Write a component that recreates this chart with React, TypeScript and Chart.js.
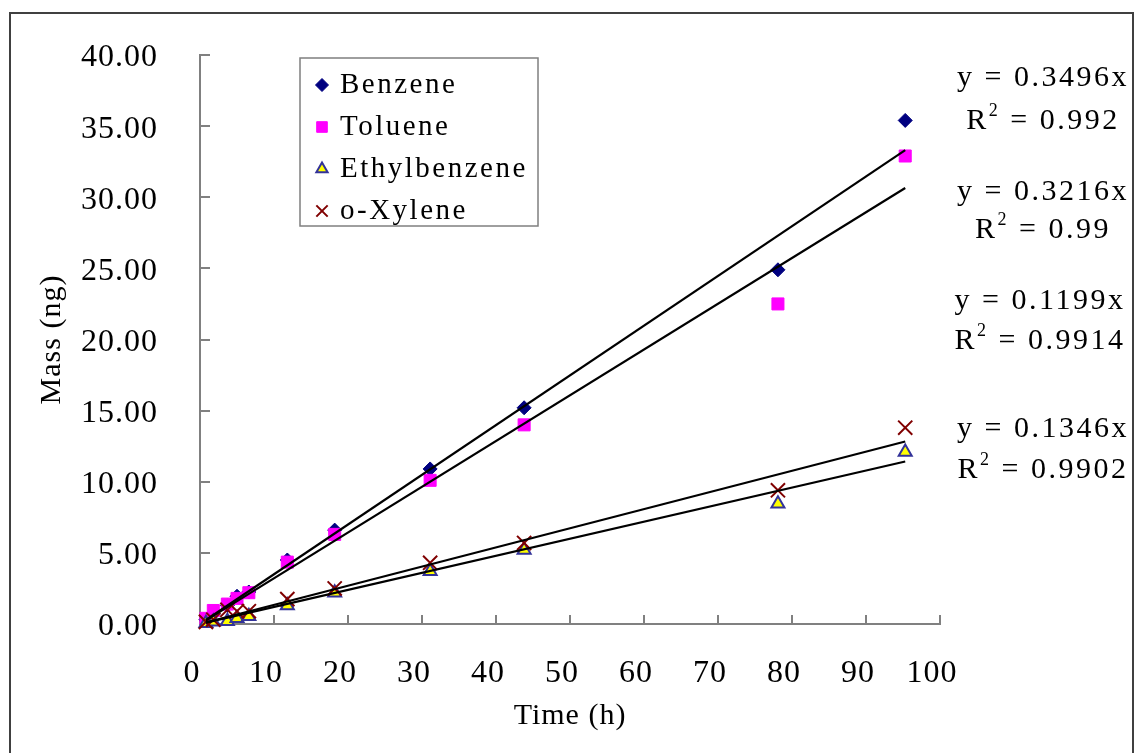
import React, { useEffect, useRef } from 'react';
import { Chart, registerables } from 'chart.js';
import { drawPoint } from 'chart.js/helpers';

Chart.register(...registerables);

// ---- data ----
const timeH = [0.8, 1.8, 3.7, 5.0, 6.6, 11.8, 18.2, 31.1, 43.8, 78.1, 95.3];
const benzene = [0.3, 0.7, 1.3, 1.95, 2.25, 4.5, 6.6, 10.9, 15.2, 24.9, 35.4];
const toluene = [0.4, 0.95, 1.4, 1.8, 2.2, 4.35, 6.3, 10.1, 14.0, 22.5, 32.9];
const ethylbenzene = [0.05, 0.15, 0.2, 0.4, 0.55, 1.3, 2.2, 3.7, 5.2, 8.45, 12.1];
const oXylene = [0.15, 0.3, 1.0, 0.9, 0.9, 1.75, 2.5, 4.3, 5.7, 9.4, 13.8];

const seriesNames = ['Benzene', 'Toluene', 'Ethylbenzene', 'o-Xylene'];
const slopes = [0.3496, 0.3216, 0.1199, 0.1346];
const slopeLabels = ['0.3496', '0.3216', '0.1199', '0.1346'];
const rSquaredLabels = ['0.992', '0.99', '0.9914', '0.9902'];

const xMin = 0;
const xMax = 100;
const xStep = 10;
const yMin = 0;
const yMax = 40;
const yStep = 5;

const xTitle = 'Time (h)';
const yTitle = 'Mass (ng)';

// ---- styles ----
const SERIF = '"Liberation Serif", "DejaVu Serif", serif';
const markerStyles = [
  { pointStyle: 'rectRot', radius: 7, bg: '#000080', border: '#000080', bw: 1, legendR: 6.5 },
  { pointStyle: 'rect', radius: 8.5, bg: '#FF00FF', border: '#FF00FF', bw: 1, legendR: 7.5 },
  { pointStyle: 'triangle', radius: 7.5, bg: '#FFFF00', border: '#333399', bw: 2, legendR: 6.5 },
  { pointStyle: 'crossRot', radius: 10, bg: '#800000', border: '#800000', bw: 2, legendR: 8 },
];
const annotationPos = [
  { x: 1043, y1: 78, y2: 121 },
  { x: 1043, y1: 192, y2: 230 },
  { x: 1040, y1: 301, y2: 341 },
  { x: 1043, y1: 429, y2: 470 },
];
const legendBox = { x: 300, y: 58, w: 238, h: 168, markerX: 322, textX: 340, rows: [85, 127, 169, 211] };

const seriesValues = [benzene, toluene, ethylbenzene, oXylene];

function drawRSquared(ctx: CanvasRenderingContext2D, cx: number, cy: number, value: string) {
  const big = `30px ${SERIF}`;
  const small = `18px ${SERIF}`;
  ctx.font = big;
  const wR = ctx.measureText('R').width;
  const wRest = ctx.measureText(` = ${value}`).width;
  ctx.font = small;
  const w2 = ctx.measureText('2').width;
  const total = wR + w2 + wRest;
  let x = cx - total / 2;
  ctx.textAlign = 'left';
  ctx.font = big;
  ctx.fillText('R', x, cy);
  x += wR;
  ctx.font = small;
  ctx.fillText('2', x, cy - 10);
  x += w2;
  ctx.font = big;
  ctx.fillText(` = ${value}`, x, cy);
}

const decorPlugin = {
  id: 'decor',
  beforeUpdate(chart: any) {
    chart.ctx.letterSpacing = '1px';
  },
  beforeDraw(chart: any) {
    const { ctx, width, height } = chart;
    ctx.save();
    ctx.fillStyle = '#ffffff';
    ctx.fillRect(0, 0, width, height);
    ctx.restore();
    ctx.letterSpacing = '1px';
  },
  beforeDatasetsDraw(chart: any) {
    const { ctx } = chart;
    const xs = chart.scales.x;
    const ys = chart.scales.y;
    ctx.save();
    ctx.strokeStyle = '#808080';
    ctx.lineWidth = 2;
    ctx.beginPath();
    xs.ticks.forEach((t: any) => {
      const px = Math.round(xs.getPixelForValue(t.value));
      ctx.moveTo(px, ys.bottom);
      ctx.lineTo(px, ys.bottom - 9);
    });
    ys.ticks.forEach((t: any) => {
      const py = Math.round(ys.getPixelForValue(t.value));
      ctx.moveTo(xs.left, py);
      ctx.lineTo(xs.left + 10, py);
    });
    ctx.stroke();
    ctx.restore();
  },
  afterDraw(chart: any) {
    const { ctx } = chart;
    ctx.save();

    // legend box
    ctx.strokeStyle = '#7f7f7f';
    ctx.lineWidth = 1.5;
    ctx.strokeRect(legendBox.x, legendBox.y, legendBox.w, legendBox.h);
    ctx.font = `29px ${SERIF}`;
    ctx.letterSpacing = '2.5px';
    ctx.textBaseline = 'middle';
    ctx.textAlign = 'left';
    seriesNames.forEach((name, i) => {
      const ds = chart.data.datasets[i];
      const y = legendBox.rows[i];
      ctx.save();
      ctx.fillStyle = ds.pointBackgroundColor;
      ctx.strokeStyle = ds.pointBorderColor;
      ctx.lineWidth = ds.pointBorderWidth;
      drawPoint(ctx, { pointStyle: ds.pointStyle, radius: markerStyles[i].legendR, rotation: 0, borderWidth: ds.pointBorderWidth }, legendBox.markerX, y);
      ctx.restore();
      ctx.fillStyle = '#000000';
      ctx.fillText(name, legendBox.textX, y);
    });

    // trendline equations
    ctx.letterSpacing = '2.5px';
    ctx.fillStyle = '#000000';
    slopeLabels.forEach((s, i) => {
      const p = annotationPos[i];
      ctx.font = `30px ${SERIF}`;
      ctx.textAlign = 'center';
      ctx.fillText(`y = ${s}x`, p.x, p.y1);
      drawRSquared(ctx, p.x, p.y2, rSquaredLabels[i]);
    });

    // outer frame
    ctx.letterSpacing = '0px';
    ctx.strokeStyle = '#404040';
    ctx.lineWidth = 2;
    ctx.beginPath();
    ctx.moveTo(10, 753);
    ctx.lineTo(10, 13);
    ctx.lineTo(1133, 13);
    ctx.lineTo(1133, 753);
    ctx.stroke();

    ctx.restore();
    ctx.letterSpacing = '1px';
  },
};

export default function App() {
  const ref = useRef<HTMLCanvasElement | null>(null);

  useEffect(() => {
    if (!ref.current) return;
    const xFirst = Math.min(...timeH);
    const xLast = Math.max(...timeH);

    const pointSets = seriesNames.map((name, i) => {
      const st = markerStyles[i];
      return {
        type: 'scatter' as const,
        label: name,
        data: timeH.map((x, j) => ({ x, y: seriesValues[i][j] })),
        pointStyle: st.pointStyle,
        pointRadius: st.radius,
        pointBackgroundColor: st.bg,
        pointBorderColor: st.border,
        pointBorderWidth: st.bw,
        showLine: false,
        clip: false as any,
        order: 4 - i,
      };
    });

    const trendSets = slopes.map((m, i) => ({
      type: 'scatter' as const,
      label: `${seriesNames[i]} trend`,
      data: [
        { x: xFirst, y: m * xFirst },
        { x: xLast, y: m * xLast },
      ],
      showLine: true,
      borderColor: '#000000',
      borderWidth: 2.2,
      pointRadius: 0,
      fill: false,
      clip: false as any,
      order: 0,
    }));

    const chart = new Chart(ref.current, {
      type: 'scatter',
      data: { datasets: [...pointSets, ...trendSets] as any },
      plugins: [decorPlugin as any],
      options: {
        responsive: false,
        animation: false,
        devicePixelRatio: 1,
        layout: { padding: { left: 0, top: 55, right: 195, bottom: 0 } },
        plugins: {
          legend: { display: false },
          tooltip: { enabled: false },
        },
        scales: {
          x: {
            type: 'linear',
            position: 'bottom',
            min: xMin,
            max: xMax,
            afterFit: (s: any) => {
              s.height = 129;
            },
            ticks: {
              stepSize: xStep,
              autoSkip: false,
              maxRotation: 0,
              padding: 0,
              labelOffset: -8,
              color: '#000000',
              font: { family: SERIF, size: 32 },
            },
            grid: {
              display: true,
              drawOnChartArea: false,
              drawTicks: true,
              tickLength: 30,
              tickColor: 'rgba(0,0,0,0)',
              tickWidth: 0,
            },
            border: { display: true, color: '#808080', width: 2 },
            title: {
              display: true,
              text: xTitle,
              color: '#000000',
              font: { family: SERIF, size: 30 },
              padding: { top: 0, bottom: 19 },
            },
          },
          y: {
            type: 'linear',
            position: 'left',
            min: yMin,
            max: yMax,
            afterFit: (s: any) => {
              s.width = 200;
            },
            ticks: {
              stepSize: yStep,
              padding: 0,
              labelOffset: 3,
              color: '#000000',
              font: { family: SERIF, size: 32 },
              callback: (v: any) => Number(v).toFixed(2),
            },
            grid: {
              display: true,
              drawOnChartArea: false,
              drawTicks: true,
              tickLength: 42,
              tickColor: 'rgba(0,0,0,0)',
              tickWidth: 0,
            },
            border: { display: true, color: '#808080', width: 2 },
            title: {
              display: true,
              text: yTitle,
              color: '#000000',
              font: { family: SERIF, size: 30 },
              padding: { top: 34, bottom: 0 },
            },
          },
        },
      },
    });
    return () => chart.destroy();
  }, []);

  return (
    <div style={{ position: 'fixed', left: 0, top: 0, width: 1135, height: 753, background: '#fff' }}>
      <canvas ref={ref} width={1135} height={753} style={{ display: 'block', width: 1135, height: 753 }} />
    </div>
  );
}
